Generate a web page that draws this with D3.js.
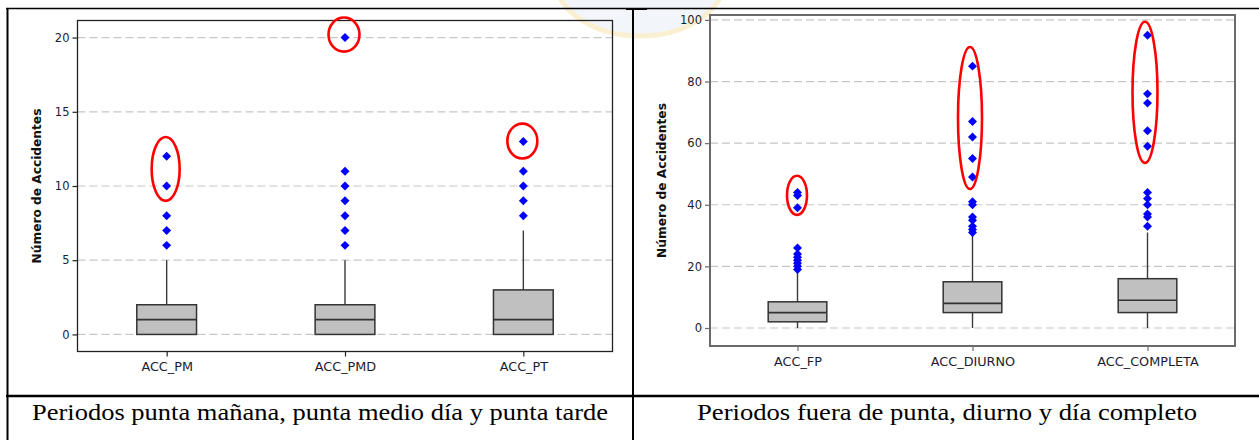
<!DOCTYPE html>
<html>
<head>
<meta charset="utf-8">
<script src="https://cdn.jsdelivr.net/npm/d3@7"></script>
<style>
  html, body { margin: 0; padding: 0; background: #fff; }
  svg { display: block; }
  .cap { font-family: "Liberation Serif", "Times New Roman", Times, serif; }
  .sans { font-family: "DejaVu Sans", Verdana, sans-serif; }
</style>
</head>
<body>
<svg id="chart" width="1259" height="440"></svg>
<script>
// ---------- DATA ----------
const leftCategories = ["ACC_PM", "ACC_PMD", "ACC_PT"];
const leftQ1 = [0, 0, 0];
const leftMedian = [1, 1, 1];
const leftQ3 = [2, 2, 3];
const leftWhiskerLow = [0, 0, 0];
const leftWhiskerHigh = [5, 5, 7];
const leftOutliers = [
  [6, 7, 8, 10, 12],
  [6, 7, 8, 9, 10, 11, 20],
  [8, 9, 10, 11, 13]
];
const leftCircled = [[9.0, 13.3], [19.05, 21.35], [11.85, 14.2]];
const leftTicks = [0, 5, 10, 15, 20];
const leftDomain = [-1.15, 21.15];

const rightCategories = ["ACC_FP", "ACC_DIURNO", "ACC_COMPLETA"];
const rightQ1 = [2, 5, 5];
const rightMedian = [5, 8, 9];
const rightQ3 = [8.5, 15, 16];
const rightWhiskerLow = [0, 0, 0];
const rightWhiskerHigh = [18, 30, 31];
const rightOutliers = [
  [19, 20, 21, 22, 23, 24, 26, 39, 43, 44],
  [31, 32, 33, 35, 36, 40, 41, 49, 55, 62, 67, 85],
  [33, 36, 37, 40, 42, 44, 59, 64, 73, 76, 95]
];
const rightCircled = [[36.7, 49.4], [45.1, 91.2], [53.6, 99.4]];
const rightTicks = [0, 20, 40, 60, 80, 100];
const rightDomain = [-5.85, 101.6];

const yTitle = "Número de Accidentes";
const captions = [
  "Periodos punta mañana, punta medio día y punta tarde",
  "Periodos fuera de punta, diurno y día completo"
];

// ---------- DRAW ----------
const svg = d3.select("#chart");

// faint watermark logo behind the top
const wm = svg.append("g").attr("opacity", 0.45);
wm.append("ellipse").attr("cx", 640).attr("cy", -24).attr("rx", 86).attr("ry", 60)
  .attr("fill", "#e3e9f3").attr("stroke", "#f6dc98").attr("stroke-width", 5);

function panel(cfg) {
  const g = svg.append("g");
  const x = d3.scalePoint().domain(cfg.cats).range([cfg.x0, cfg.x1]).padding(0.5);
  const step = x.step();
  const boxW = step * 0.335;
  const y = d3.scaleLinear().domain(cfg.domain).range([cfg.y1, cfg.y0]);

  // grid
  g.append("g").selectAll("line").data(cfg.ticks).join("line")
    .attr("x1", cfg.x0).attr("x2", cfg.x1)
    .attr("y1", d => y(d)).attr("y2", d => y(d))
    .attr("stroke", "#c6c6c6").attr("stroke-width", 1.2)
    .attr("stroke-dasharray", "8,4");

  // y axis
  const ya = g.append("g").attr("transform", `translate(${cfg.x0},0)`)
    .call(d3.axisLeft(y).tickValues(cfg.ticks).tickSize(5).tickPadding(3));
  ya.select(".domain").remove();
  ya.attr("font-family", null);
  ya.selectAll(".tick line").attr("stroke", cfg.frameColor).attr("stroke-width", 1.2);
  ya.selectAll(".tick text").attr("class", "sans")
    .attr("font-size", 11.5).attr("fill", "#1c1c30");

  // x axis
  const xa = g.append("g").attr("transform", `translate(0,${cfg.y1})`)
    .call(d3.axisBottom(x).tickSize(5).tickPadding(5.5));
  xa.select(".domain").remove();
  xa.attr("font-family", null);
  xa.selectAll(".tick line").attr("stroke", cfg.frameColor).attr("stroke-width", 1.2);
  xa.selectAll(".tick text").attr("class", "sans")
    .attr("font-size", 12.8).attr("fill", "#1c1c30");

  // frame
  g.append("rect").attr("x", cfg.x0).attr("y", cfg.y0)
    .attr("width", cfg.x1 - cfg.x0).attr("height", cfg.y1 - cfg.y0)
    .attr("fill", "none").attr("stroke", cfg.frameColor).attr("stroke-width", cfg.frameWidth);

  const idx = cfg.cats.map((c, i) => i);
  const bx = g.append("g");
  // whiskers
  bx.selectAll("line.wl").data(idx).join("line").attr("class", "wl")
    .attr("x1", i => x(cfg.cats[i])).attr("x2", i => x(cfg.cats[i]))
    .attr("y1", i => y(cfg.low[i])).attr("y2", i => y(cfg.q1[i]))
    .attr("stroke", "#3a3a3a").attr("stroke-width", 1.4);
  bx.selectAll("line.wh").data(idx).join("line").attr("class", "wh")
    .attr("x1", i => x(cfg.cats[i])).attr("x2", i => x(cfg.cats[i]))
    .attr("y1", i => y(cfg.high[i])).attr("y2", i => y(cfg.q3[i]))
    .attr("stroke", "#3a3a3a").attr("stroke-width", 1.4);
  // boxes
  bx.selectAll("rect").data(idx).join("rect")
    .attr("x", i => x(cfg.cats[i]) - boxW / 2).attr("width", boxW)
    .attr("y", i => y(cfg.q3[i])).attr("height", i => y(cfg.q1[i]) - y(cfg.q3[i]))
    .attr("fill", "#c0c0c0").attr("stroke", "#333").attr("stroke-width", 1.5);
  // medians
  bx.selectAll("line.md").data(idx).join("line").attr("class", "md")
    .attr("x1", i => x(cfg.cats[i]) - boxW / 2).attr("x2", i => x(cfg.cats[i]) + boxW / 2)
    .attr("y1", i => y(cfg.med[i])).attr("y2", i => y(cfg.med[i]))
    .attr("stroke", "#333").attr("stroke-width", 1.6);

  // outliers
  const pts = [];
  cfg.outliers.forEach((arr, i) => arr.forEach(v => pts.push({ c: cfg.cats[i], v })));
  const diamond = d3.symbol().type(d3.symbolSquare).size(40);
  g.append("g").selectAll("path").data(pts).join("path")
    .attr("d", diamond)
    .attr("transform", d => `translate(${x(d.c)},${y(d.v)}) rotate(45)`)
    .attr("fill", "#0000ff");

  // red annotation ellipses
  g.append("g").selectAll("ellipse").data(idx).join("ellipse")
    .attr("cx", i => x(cfg.cats[i]) - cfg.ellOffset[i])
    .attr("cy", i => (y(cfg.circled[i][0]) + y(cfg.circled[i][1])) / 2)
    .attr("rx", i => cfg.ellRx[i])
    .attr("ry", i => (y(cfg.circled[i][0]) - y(cfg.circled[i][1])) / 2)
    .attr("fill", "none").attr("stroke", "#ff0000").attr("stroke-width", 2.6);

  // y title
  g.append("text").attr("class", "sans")
    .attr("transform", `translate(${cfg.titleX},${(cfg.y0 + cfg.y1) / 2}) rotate(-90)`)
    .attr("text-anchor", "middle")
    .attr("font-weight", "bold").attr("font-size", 12.2).attr("fill", "#111")
    .text(yTitle);
}

panel({
  cats: leftCategories, q1: leftQ1, med: leftMedian, q3: leftQ3,
  low: leftWhiskerLow, high: leftWhiskerHigh, outliers: leftOutliers,
  circled: leftCircled, ticks: leftTicks, domain: leftDomain,
  x0: 77.5, x1: 612.5, y0: 20.5, y1: 351.5,
  frameColor: "#222", frameWidth: 1.3,
  ellRx: [14, 15.5, 15], ellOffset: [1, 1, 1], titleX: 40.5
});

panel({
  cats: rightCategories, q1: rightQ1, med: rightMedian, q3: rightQ3,
  low: rightWhiskerLow, high: rightWhiskerHigh, outliers: rightOutliers,
  circled: rightCircled, ticks: rightTicks, domain: rightDomain,
  x0: 710, x1: 1235, y0: 15, y1: 346,
  frameColor: "#6a6a6a", frameWidth: 2,
  ellRx: [10, 12, 12.5], ellOffset: [0.5, 2.5, 2.5], titleX: 665.5
});

// ---------- table borders ----------
const border = svg.append("g").attr("stroke", "#000");
border.append("line").attr("x1", 6).attr("x2", 1259).attr("y1", 8.5).attr("y2", 8.5).attr("stroke-width", 1.5);
border.append("line").attr("x1", 7.5).attr("x2", 7.5).attr("y1", 8).attr("y2", 440).attr("stroke-width", 2);
border.append("line").attr("x1", 633).attr("x2", 633).attr("y1", 8).attr("y2", 440).attr("stroke-width", 2);
border.append("line").attr("x1", 626).attr("x2", 647).attr("y1", 9).attr("y2", 9).attr("stroke-width", 2);
border.append("line").attr("x1", 6).attr("x2", 1259).attr("y1", 396).attr("y2", 396).attr("stroke-width", 2.5);

// ---------- captions ----------
const capSpecs = [{ x: 32, len: 576 }, { x: 697, len: 500 }];
svg.append("g").selectAll("text").data(captions).join("text")
  .attr("class", "cap")
  .attr("x", (d, i) => capSpecs[i].x).attr("y", 420)
  .attr("textLength", (d, i) => capSpecs[i].len)
  .attr("lengthAdjust", "spacingAndGlyphs")
  .attr("font-size", 23).attr("fill", "#000")
  .text(d => d);
</script>
</body>
</html>
